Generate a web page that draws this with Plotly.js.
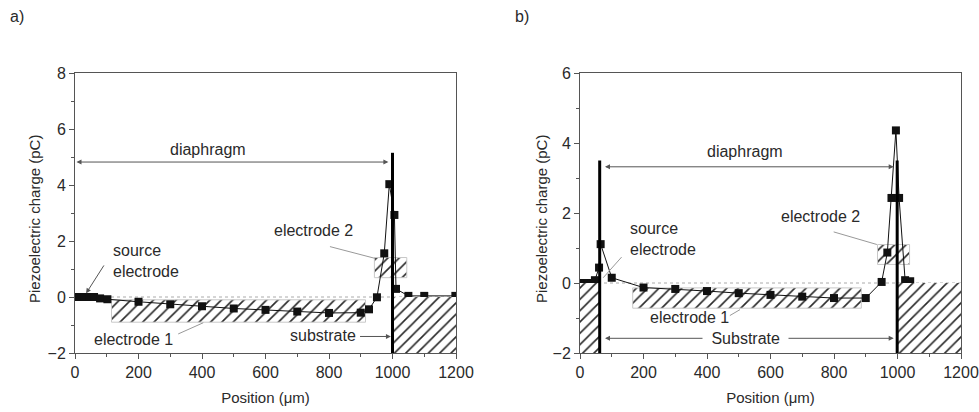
<!DOCTYPE html>
<html>
<head>
<meta charset="utf-8">
<script src="https://cdn.plot.ly/plotly-3.0.1.min.js"></script>
<style>html,body{margin:0;padding:0;background:#fff;}#chart{width:979px;height:412px;}</style>
</head>
<body>
<div id="chart"></div>
<script>
// ---- data (panel a) ----
const positionA = [0, 15, 30, 45, 60, 79, 102, 200, 300, 400, 500, 600, 700, 800, 900, 926, 951, 974, 990, 1006, 1011, 1050, 1100, 1198];
const chargeA   = [0, 0, 0, 0, 0, -0.05, -0.08, -0.17, -0.26, -0.33, -0.41, -0.46, -0.52, -0.57, -0.56, -0.44, -0.01, 1.56, 4.03, 2.93, 0.29, 0.04, 0.04, 0.04];
// ---- data (panel b) ----
const positionB = [0, 12, 24, 36, 47, 60, 65, 100, 200, 300, 400, 500, 600, 700, 800, 900, 950, 968, 981, 995, 1005, 1024, 1040];
const chargeB   = [0, 0, 0, 0, 0.08, 0.44, 1.11, 0.15, -0.13, -0.17, -0.23, -0.29, -0.34, -0.39, -0.43, -0.43, 0.03, 0.87, 2.43, 4.36, 2.43, 0.08, 0.05];
// ---- structure extents (x in µm, y in plot units) ----
const electrode1A = {x: [115, 915], y: [-0.9, -0.1]};
const electrode2A = {x: [943, 1045], y: [0.69, 1.41]};
const substrateA  = {x: [1000, 1200], y: [-2, 0]};
const electrode1B = {x: [166, 886], y: [-0.72, -0.14]};
const electrode2B = {x: [937, 1038], y: [0.53, 1.1]};
const substrateBL = {x: [0, 60], y: [-2, 0]};
const substrateBR = {x: [1000, 1200], y: [-2, 0]};
const wallsA = [{x: 1000, top: 5.15}];
const wallsB = [{x: 62, top: 3.5}, {x: 999, top: 3.5}];
const xTicks = [0, 200, 400, 600, 800, 1000, 1200];
const yTicksA = [-2, 0, 2, 4, 6, 8];
const yTicksB = [-2, 0, 2, 4, 6];
const xTitle = 'Position (μm)';
const yTitle = 'Piezoelectric charge (pC)';

const FONT = 'Liberation Sans, Arial, Helvetica, sans-serif';
const TXT = '#2a2a2a';
const AX = '#555';

function hatch(r, xa, ya, edge) {
  return {
    type: 'scatter', mode: 'lines', xaxis: xa, yaxis: ya, hoverinfo: 'skip', showlegend: false,
    x: [r.x[0], r.x[1], r.x[1], r.x[0], r.x[0]],
    y: [r.y[0], r.y[0], r.y[1], r.y[1], r.y[0]],
    fill: 'toself', fillcolor: 'white',
    line: {color: edge ? '#c8c8c8' : 'rgba(0,0,0,0)', width: edge ? 1 : 0},
    fillpattern: {shape: '/', fgcolor: '#2a2a2a', bgcolor: 'white', size: 8, solidity: 0.2}
  };
}
function series(x, y, xa, ya) {
  return {type: 'scatter', mode: 'lines+markers', x: x, y: y, xaxis: xa, yaxis: ya, showlegend: false,
    line: {color: '#111', width: 1}, marker: {symbol: 'square', size: 8, color: '#111'}};
}

const data = [
  hatch(electrode1A, 'x', 'y', true), hatch(electrode2A, 'x', 'y', true),
  series(positionA, chargeA, 'x', 'y'),
  hatch(substrateA, 'x', 'y', false),
  hatch(electrode1B, 'x2', 'y2', true), hatch(electrode2B, 'x2', 'y2', true),
  series(positionB, chargeB, 'x2', 'y2'),
  hatch(substrateBL, 'x2', 'y2', false), hatch(substrateBR, 'x2', 'y2', false)
];

function xax(domain) {
  return {domain: domain, range: [0, 1200], tickvals: xTicks, ticks: 'outside', ticklen: 5, tickcolor: AX,
    minor: {dtick: 100, ticks: 'outside', ticklen: 3, tickcolor: AX},
    showline: true, mirror: true, linecolor: AX, linewidth: 1, showgrid: false, zeroline: false,
    tickfont: {family: FONT, size: 16, color: TXT},
    title: {text: xTitle, font: {family: FONT, size: 15, color: TXT}, standoff: 12}};
}
function yax(domain, range, ticks, anchor) {
  return {domain: domain, range: range, tickvals: ticks, ticks: 'outside', ticklen: 5, tickcolor: AX, anchor: anchor,
    minor: {dtick: 1, ticks: 'outside', ticklen: 3, tickcolor: AX},
    showline: true, mirror: true, linecolor: AX, linewidth: 1, showgrid: false, zeroline: false,
    tickfont: {family: FONT, size: 16, color: TXT}};
}

const shapes = [];
const zeroStyle = {color: '#aaa', width: 1, dash: 'dot'};
shapes.push({type: 'line', xref: 'x', yref: 'y', x0: 0, x1: 1200, y0: 0, y1: 0, line: zeroStyle, layer: 'below'});
shapes.push({type: 'line', xref: 'x2', yref: 'y2', x0: 0, x1: 1200, y0: 0, y1: 0, line: zeroStyle, layer: 'below'});
wallsA.forEach(w => shapes.push({type: 'line', xref: 'x', yref: 'y', x0: w.x, x1: w.x, y0: -2, y1: w.top, line: {color: '#000', width: 3}}));
wallsB.forEach(w => shapes.push({type: 'line', xref: 'x2', yref: 'y2', x0: w.x, x1: w.x, y0: -2, y1: w.top, line: {color: '#000', width: 3}}));
const lead = {color: '#999', width: 1};
shapes.push({type: 'line', xref: 'x', yref: 'y', x0: 803, y0: 1.8, x1: 945, y1: 1.38, line: lead});
shapes.push({type: 'line', xref: 'x', yref: 'y', x0: 325, y0: -1.32, x1: 404, y1: -0.92, line: lead});
shapes.push({type: 'line', xref: 'x2', yref: 'y2', x0: 131, y0: 0.74, x1: 73, y1: 0.15, line: lead});
shapes.push({type: 'line', xref: 'x2', yref: 'y2', x0: 799, y0: 1.46, x1: 935, y1: 1.1, line: lead});
shapes.push({type: 'line', xref: 'x2', yref: 'y2', x0: 472, y0: -0.93, x1: 504, y1: -0.76, line: lead});

function txt(xr, yr, x, y, text, xanchor, extra) {
  return Object.assign({xref: xr, yref: yr, x: x, y: y, text: text, showarrow: false, xanchor: xanchor || 'center', yanchor: 'middle',
    align: 'left', font: {family: FONT, size: 16, color: TXT}}, extra || {});
}
function arrow(xr, yr, x0, y0, x1, y1, both) {
  return {xref: xr, yref: yr, axref: xr, ayref: yr, x: x1, y: y1, ax: x0, ay: y0, text: '', showarrow: true,
    arrowhead: 2, arrowsize: 1, arrowwidth: 1, arrowcolor: '#555', arrowside: both ? 'end+start' : 'end', standoff: 0, startstandoff: 0};
}

const PW = 886, PH = 280, ML = 75, MT = 73;
const px = v => (v - ML) / PW;
const py = v => (MT + PH - v) / PH;
const annotations = [
  {xref: 'paper', yref: 'paper', x: px(8), y: py(16), text: 'a)', showarrow: false, xanchor: 'left', yanchor: 'middle', font: {family: FONT, size: 16, color: TXT}},
  {xref: 'paper', yref: 'paper', x: px(513), y: py(16), text: 'b)', showarrow: false, xanchor: 'left', yanchor: 'middle', font: {family: FONT, size: 16, color: TXT}},
  // y-axis titles
  {xref: 'paper', yref: 'paper', x: px(35), y: py(219), text: yTitle, textangle: -90, showarrow: false, xanchor: 'center', yanchor: 'middle', font: {family: FONT, size: 15, color: TXT}},
  {xref: 'paper', yref: 'paper', x: px(542), y: py(219), text: yTitle, textangle: -90, showarrow: false, xanchor: 'center', yanchor: 'middle', font: {family: FONT, size: 15, color: TXT}},
  // panel a
  arrow('x', 'y', 0, 4.82, 987, 4.82, true),
  txt('x', 'y', 420, 5.28, 'diaphragm'),
  txt('x', 'y', 112, 1.30, 'source<br>electrode', 'left'),
  arrow('x', 'y', 94, 1.18, 35, 0.13, false),
  txt('x', 'y', 750, 2.37, 'electrode 2'),
  txt('x', 'y', 184, -1.51, 'electrode 1'),
  txt('x', 'y', 892, -1.39, 'substrate', 'right'),
  arrow('x', 'y', 893, -1.41, 995, -1.41, false),
  // panel b
  arrow('x2', 'y2', 74, 3.32, 988, 3.32, true),
  txt('x2', 'y2', 520, 3.75, 'diaphragm'),
  txt('x2', 'y2', 152, 1.25, 'source<br>electrode', 'left'),
  txt('x2', 'y2', 756, 1.89, 'electrode 2'),
  txt('x2', 'y2', 346, -0.99, 'electrode 1'),
  arrow('x2', 'y2', 74, -1.58, 988, -1.58, true),
  txt('x2', 'y2', 520, -1.58, ' Substrate ', 'center', {bgcolor: 'white', borderpad: 4})
];

const layout = {
  width: 979, height: 412,
  margin: {l: ML, r: 18, t: MT, b: 59},
  paper_bgcolor: 'white', plot_bgcolor: 'rgba(0,0,0,0)',
  showlegend: false,
  xaxis: xax([0, 381 / PW]),
  yaxis: yax([0, 1], [-2, 8], yTicksA, 'x'),
  xaxis2: Object.assign(xax([505 / PW, 1]), {anchor: 'y2'}),
  yaxis2: yax([0, 1], [-2, 6], yTicksB, 'x2'),
  shapes: shapes,
  annotations: annotations
};

Plotly.newPlot('chart', data, layout, {displayModeBar: false, staticPlot: true});
</script>
</body>
</html>
